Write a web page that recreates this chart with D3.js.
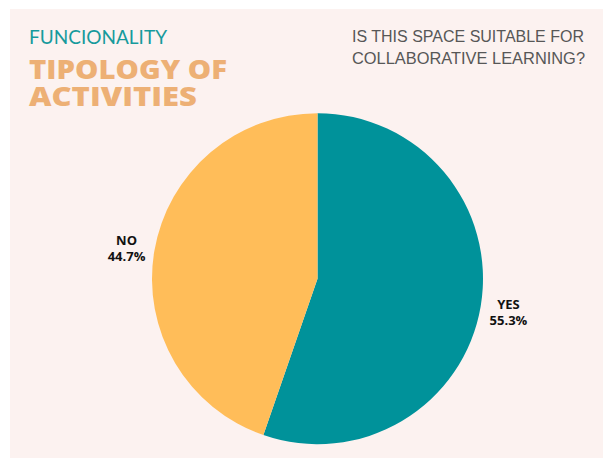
<!DOCTYPE html>
<html>
<head>
<meta charset="utf-8">
<script src="https://cdn.jsdelivr.net/npm/d3@7"></script>
<style>
  html, body { margin: 0; padding: 0; background: #ffffff; }
  svg { display: block; }
</style>
</head>
<body>
<svg id="chart" width="603" height="458"></svg>
<script>
// Answers to "Is this space suitable for collaborative learning?"
const categories = ["YES", "NO"];
const shares = [55.3, 44.7];
const sliceColors = ["#00929A", "#FFBD59"];

const headerLines = ["TIPOLOGY OF", "ACTIVITIES"];
const questionLines = ["IS THIS SPACE SUITABLE FOR", "COLLABORATIVE LEARNING?"];

const svg = d3.select("#chart");
const W = 603, H = 458;

// Panel
svg.append("rect")
  .attr("x", 10).attr("y", 9)
  .attr("width", W - 10).attr("height", H - 9)
  .attr("fill", "#FCF2F0");

// Section heading
svg.append("text")
  .attr("x", 29).attr("y", 44)
  .attr("font-family", "Lato, 'Open Sans', sans-serif")
  .attr("font-weight", 400)
  .attr("font-size", 18.5)
  .attr("fill", "#179A9C")
  .attr("textLength", 138).attr("lengthAdjust", "spacingAndGlyphs")
  .text("FUNCIONALITY");

// Two-line title set as one text block
const headerWidths = [198, 168];
const header = svg.append("text")
  .attr("font-family", "'Open Sans', 'DejaVu Sans', sans-serif")
  .attr("font-weight", 800)
  .attr("font-size", 26)
  .attr("fill", "#EDB075");
headerLines.forEach((line, i) => {
  header.append("tspan")
    .attr("x", 29).attr("y", 79 + i * 27)
    .attr("textLength", headerWidths[i]).attr("lengthAdjust", "spacingAndGlyphs")
    .text(line);
});

const questionWidths = [232, 233];
const question = svg.append("text")
  .attr("font-family", "'Liberation Sans', Arial, sans-serif")
  .attr("font-size", 16)
  .attr("fill", "#575757");
questionLines.forEach((line, i) => {
  question.append("tspan")
    .attr("x", 352).attr("y", 42 + i * 22)
    .attr("textLength", questionWidths[i]).attr("lengthAdjust", "spacingAndGlyphs")
    .text(line);
});

// Pie
const cx = 317.5, cy = 278.7, r = 165.5;
const g = svg.append("g").attr("transform", `translate(${cx},${cy})`);

const data = categories.map((c, i) => ({ category: c, value: shares[i], color: sliceColors[i] }));
const pie = d3.pie().value(d => d.value).sort(null);
const arcs = pie(data);

const arc = d3.arc().innerRadius(0).outerRadius(r);
const labelArc = d3.arc().innerRadius(r * 1.17).outerRadius(r * 1.17);

g.selectAll("path.slice")
  .data(arcs)
  .join("path")
  .attr("class", "slice")
  .attr("d", arc)
  .attr("fill", d => d.data.color);

const labels = g.selectAll("text.label")
  .data(arcs)
  .join("text")
  .attr("class", "label")
  .attr("transform", d => `translate(${labelArc.centroid(d)})`)
  .attr("text-anchor", "middle")
  .attr("font-family", "'Open Sans', sans-serif")
  .attr("font-weight", 700)
  .attr("font-size", 13)
  .attr("fill", "#111111");

labels.append("tspan")
  .attr("x", 0).attr("dy", "-0.15em")
  .text(d => d.data.category);
labels.append("tspan")
  .attr("x", 0).attr("dy", "1.25em")
  .text(d => d.data.value.toFixed(1) + "%");
</script>
</body>
</html>
